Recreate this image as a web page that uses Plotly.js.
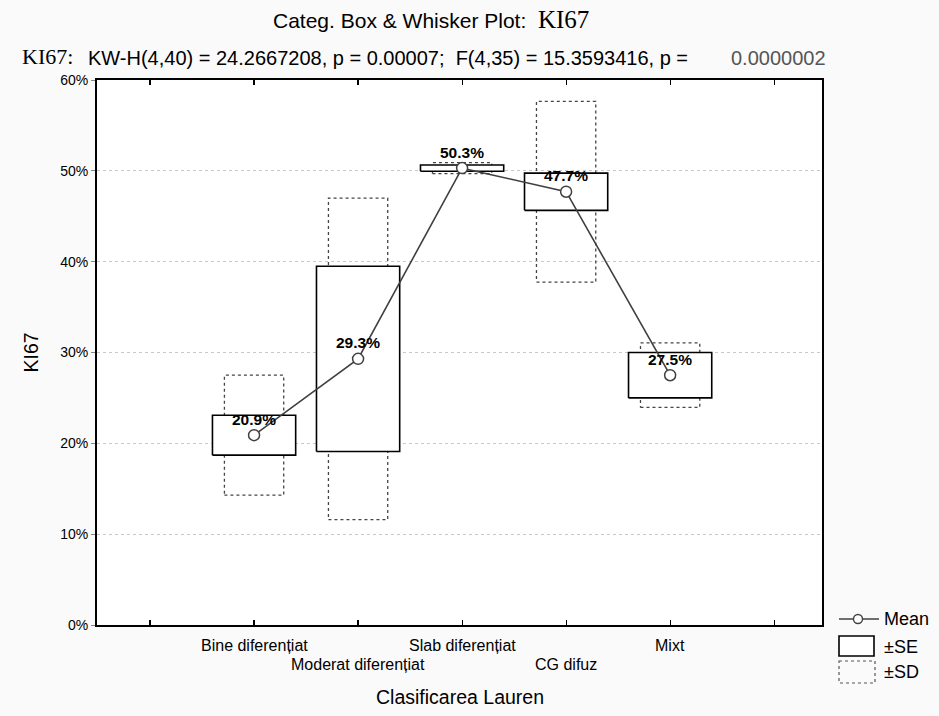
<!DOCTYPE html>
<html>
<head>
<meta charset="utf-8">
<script src="https://cdn.plot.ly/plotly-3.0.1.min.js"></script>
<style>html,body{margin:0;padding:0;background:#fafafa;}</style>
</head>
<body>
<div id="chart" style="width:939px;height:716px;"></div>
<script>
// Data
const categories = ["Bine diferențiat", "Moderat diferențiat", "Slab diferențiat", "CG difuz", "Mixt"];
const means = [20.9, 29.3, 50.3, 47.7, 27.5];
const se = [2.2, 10.2, 0.35, 2.05, 2.5];
const sd = [6.6, 17.7, 0.6, 9.95, 3.55];
const meanLabels = ["20.9%", "29.3%", "50.3%", "47.7%", "27.5%"];
const yTickVals = [0, 10, 20, 30, 40, 50, 60];
const yTickText = ["0%", "10%", "20%", "30%", "40%", "50%", "60%"];

const ARIAL = 'Arial, Liberation Sans, sans-serif';
const TIMES = 'Liberation Serif, Times New Roman, serif';
const seHalf = 0.40, sdHalf = 0.285;
function rect(i, m, h, w) {
  return {x: [i - w, i + w, i + w, i - w, i - w], y: [m - h, m - h, m + h, m + h, m - h]};
}
const traces = [];
categories.forEach((c, i) => {
  const r = rect(i, means[i], sd[i], sdHalf);
  traces.push({type: 'scatter', mode: 'lines', x: r.x, y: r.y,
    line: {color: '#444', width: 1.3, dash: 'dot'}, showlegend: false, hoverinfo: 'skip'});
});
categories.forEach((c, i) => {
  const r = rect(i, means[i], se[i], seHalf);
  traces.push({type: 'scatter', mode: 'lines', x: r.x, y: r.y, fill: 'toself', fillcolor: '#ffffff',
    line: {color: '#000', width: 1.6}, showlegend: false, hoverinfo: 'skip'});
});
traces.push({type: 'scatter', mode: 'lines+markers', x: categories.map((c, i) => i), y: means,
  line: {color: '#404040', width: 1.6},
  marker: {symbol: 'circle', size: 11, color: '#ffffff', line: {color: '#404040', width: 1.5}},
  showlegend: false});

function px(v) { return (v - 97) / 725; }
function py(v) { return (625 - v) / 545; }

const annotations = categories.map((c, i) => ({
  x: i, y: means[i], xref: 'x', yref: 'y', text: '<b>' + meanLabels[i] + '</b>', showarrow: false,
  yanchor: 'middle', yshift: 16, font: {family: ARIAL, size: 15.5, color: '#000'}
}));
// x category labels in two staggered rows
categories.forEach((c, i) => {
  annotations.push({x: i, y: 0, xref: 'x', yref: 'paper', text: c, showarrow: false,
    yanchor: 'middle', yshift: (i % 2 === 0) ? -20 : -39, font: {family: ARIAL, size: 16, color: '#000'}});
});
// axis titles
annotations.push({xref: 'paper', yref: 'paper', x: 0.5, y: 0, yshift: -72, xanchor: 'center', yanchor: 'middle', showarrow: false,
  text: 'Clasificarea Lauren', font: {family: ARIAL, size: 19.5, color: '#000'}});
annotations.push({xref: 'paper', yref: 'paper', x: 0, xshift: -67, y: 0.5, xanchor: 'center', yanchor: 'middle', showarrow: false,
  textangle: -90, text: 'KI67', font: {family: ARIAL, size: 19.5, color: '#000'}});
// titles
annotations.push({xref: 'paper', yref: 'paper', x: px(271), y: py(19), xanchor: 'left', yanchor: 'middle', showarrow: false,
  text: 'Categ. Box &amp; Whisker Plot:  <span style="font-family:Liberation Serif,Times New Roman,serif;font-size:25px">KI67</span>',
  font: {family: ARIAL, size: 21, color: '#000'}});
annotations.push({xref: 'paper', yref: 'paper', x: px(20), y: py(57), xanchor: 'left', yanchor: 'middle', showarrow: false,
  text: 'KI67:', font: {family: TIMES, size: 22, color: '#000'}});
annotations.push({xref: 'paper', yref: 'paper', x: px(86), y: py(58), xanchor: 'left', yanchor: 'middle', showarrow: false,
  text: 'KW-H(4,40) = 24.2667208, p = 0.00007;  F(4,35) = 15.3593416, p =', font: {family: ARIAL, size: 20, color: '#000'}});
annotations.push({xref: 'paper', yref: 'paper', x: px(729), y: py(58), xanchor: 'left', yanchor: 'middle', showarrow: false,
  text: '0.0000002', font: {family: ARIAL, size: 20, color: '#555'}});
// legend
const lx = 839;
[['Mean', 619], ['±SE', 647], ['±SD', 672]].forEach(([t, yy]) => {
  annotations.push({xref: 'paper', yref: 'paper', x: px(882), y: py(yy), xanchor: 'left', yanchor: 'middle', showarrow: false,
    text: t, font: {family: ARIAL, size: 18, color: '#000'}});
});
const shapes = [
  {type: 'line', xref: 'paper', yref: 'paper', x0: px(lx), x1: px(lx + 40), y0: py(619), y1: py(619), line: {color: '#404040', width: 1.5}},
  {type: 'circle', xref: 'paper', yref: 'paper', x0: px(lx + 14.5), x1: px(lx + 23.5), y0: py(614.5), y1: py(623.5), fillcolor: '#fff', line: {color: '#404040', width: 1.4}},
  {type: 'rect', xref: 'paper', yref: 'paper', x0: px(lx), x1: px(lx + 35), y0: py(636), y1: py(656), fillcolor: '#fff', line: {color: '#000', width: 1.6}},
  {type: 'rect', xref: 'paper', yref: 'paper', x0: px(lx), x1: px(lx + 36), y0: py(661), y1: py(683), fillcolor: 'rgba(0,0,0,0)', line: {color: '#555', width: 1.2, dash: 'dot'}}
];

const layout = {
  width: 939, height: 716,
  margin: {l: 97, r: 117, t: 80, b: 91},
  paper_bgcolor: '#fafafa', plot_bgcolor: '#ffffff',
  showlegend: false,
  xaxis: {range: [-1.51, 5.46], tickvals: [-1, 0, 1, 2, 3, 4, 5], ticktext: ['', '', '', '', '', '', ''],
    ticks: 'inside', ticklen: 5, tickcolor: '#000', tickwidth: 1.2, showgrid: false, zeroline: false,
    showline: true, linecolor: '#000', linewidth: 2, mirror: 'ticks'},
  yaxis: {range: [0, 60], tickvals: yTickVals, ticktext: yTickText, ticks: 'outside', ticklen: 4, tickcolor: '#888',
    showgrid: true, gridcolor: '#c8c8c8', griddash: 'dot', gridwidth: 1, zeroline: false,
    showline: true, linecolor: '#000', linewidth: 2, mirror: true,
    tickfont: {family: ARIAL, size: 14, color: '#000'}},
  annotations: annotations,
  shapes: shapes
};
Plotly.newPlot('chart', traces, layout, {displayModeBar: false, staticPlot: true});
</script>
</body>
</html>
